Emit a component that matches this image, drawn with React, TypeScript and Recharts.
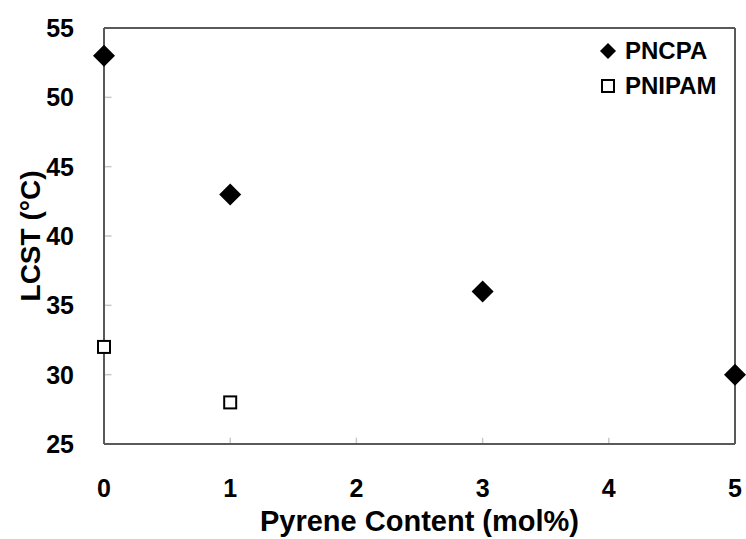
import {
  Label,
  ReferenceLine,
  Scatter,
  ScatterChart,
  XAxis,
  YAxis
} from "recharts";

const pncpaContent = [0, 1, 3, 5];
const pncpaLcst = [53, 43, 36, 30];
const pnipamContent = [0, 1];
const pnipamLcst = [32, 28];
const xTicks = [0, 1, 2, 3, 4, 5];
const yTicks = [25, 30, 35, 40, 45, 50, 55];

const pncpa = pncpaContent.map((x, i) => ({ x, y: pncpaLcst[i] }));
const pnipam = pnipamContent.map((x, i) => ({ x, y: pnipamLcst[i] }));

const FONT = "'Liberation Sans', Arial, sans-serif";
const AXIS = "#595959";
const TICK = "#c8c8c8";

const Diamond = ({ cx, cy, r = 11 }: any) => (
  <polygon
    points={`${cx},${cy - r} ${cx + r},${cy} ${cx},${cy + r} ${cx - r},${cy}`}
    fill="#000"
  />
);

const Square = ({ cx, cy, s = 6 }: any) => (
  <rect x={cx - s} y={cy - s} width={s * 2} height={s * 2} fill="#fff" stroke="#000" strokeWidth={2} />
);

function LegendBox() {
  return (
    <div
      style={{
        position: "absolute",
        left: 599,
        top: 33,
        fontFamily: FONT,
        fontWeight: 700,
        fontSize: 24,
        color: "#000",
        lineHeight: "35px"
      }}
    >
      <div style={{ display: "flex", alignItems: "center" }}>
        <svg width={18} height={18} style={{ marginRight: 8 }}>
          <Diamond cx={9} cy={9} r={8} />
        </svg>
        PNCPA
      </div>
      <div style={{ display: "flex", alignItems: "center" }}>
        <svg width={18} height={18} style={{ marginRight: 8 }}>
          <Square cx={9} cy={9} s={6} />
        </svg>
        PNIPAM
      </div>
    </div>
  );
}

export default function App() {
  return (
    <div style={{ position: "absolute", left: 0, top: 0, width: 746, height: 539, background: "#fff" }}>
      <ScatterChart width={746} height={539} margin={{ top: 28, right: 11, left: 0, bottom: 0 }}>
        <XAxis
          type="number"
          dataKey="x"
          domain={[0, 5]}
          ticks={xTicks}
          height={95}
          tickLine={false}
          axisLine={{ stroke: AXIS, strokeWidth: 2 }}
          tickMargin={29}
          tick={{ fill: "#000", fontFamily: FONT, fontWeight: 700, fontSize: 25 }}
        >
          <Label
            content={({ viewBox }: any) => (
              <text
                x={viewBox.x + viewBox.width / 2}
                y={viewBox.y + 87}
                textAnchor="middle"
                fontFamily={FONT}
                fontWeight={700}
                fontSize={29}
                fill="#000"
              >
                Pyrene Content (mol%)
              </text>
            )}
          />
        </XAxis>
        <YAxis
          type="number"
          dataKey="y"
          domain={[25, 55]}
          ticks={yTicks}
          width={104}
          tickLine={false}
          axisLine={{ stroke: AXIS, strokeWidth: 2 }}
          tickMargin={24}
          tick={{ fill: "#000", fontFamily: FONT, fontWeight: 700, fontSize: 25 }}
        >
          <Label
            content={({ viewBox }: any) => {
              const cx = viewBox.x + 30;
              const cy = viewBox.y + viewBox.height / 2;
              return (
                <text
                  x={cx}
                  y={cy}
                  transform={`rotate(-90 ${cx} ${cy})`}
                  textAnchor="middle"
                  dominantBaseline="central"
                  fontFamily={FONT}
                  fontWeight={700}
                  fontSize={28}
                  fill="#000"
                >
                  LCST (°C)
                </text>
              );
            }}
          />
        </YAxis>
        {yTicks.slice(1, -1).map((t) => (
          <ReferenceLine key={`yt-${t}`} segment={[{ x: 0, y: t }, { x: 0.06, y: t }]} stroke={TICK} strokeWidth={1.5} />
        ))}
        {xTicks.slice(1, -1).map((t) => (
          <ReferenceLine key={`xt-${t}`} segment={[{ x: t, y: 25 }, { x: t, y: 25.45 }]} stroke={TICK} strokeWidth={1.5} />
        ))}
        <ReferenceLine y={55} stroke={AXIS} strokeWidth={2} />
        <ReferenceLine x={5} stroke={AXIS} strokeWidth={2} />
        <Scatter name="PNCPA" data={pncpa} shape={(p: any) => <Diamond cx={p.cx} cy={p.cy} />} isAnimationActive={false} />
        <Scatter name="PNIPAM" data={pnipam} shape={(p: any) => <Square cx={p.cx} cy={p.cy} />} isAnimationActive={false} />
      </ScatterChart>
      <LegendBox />
    </div>
  );
}
